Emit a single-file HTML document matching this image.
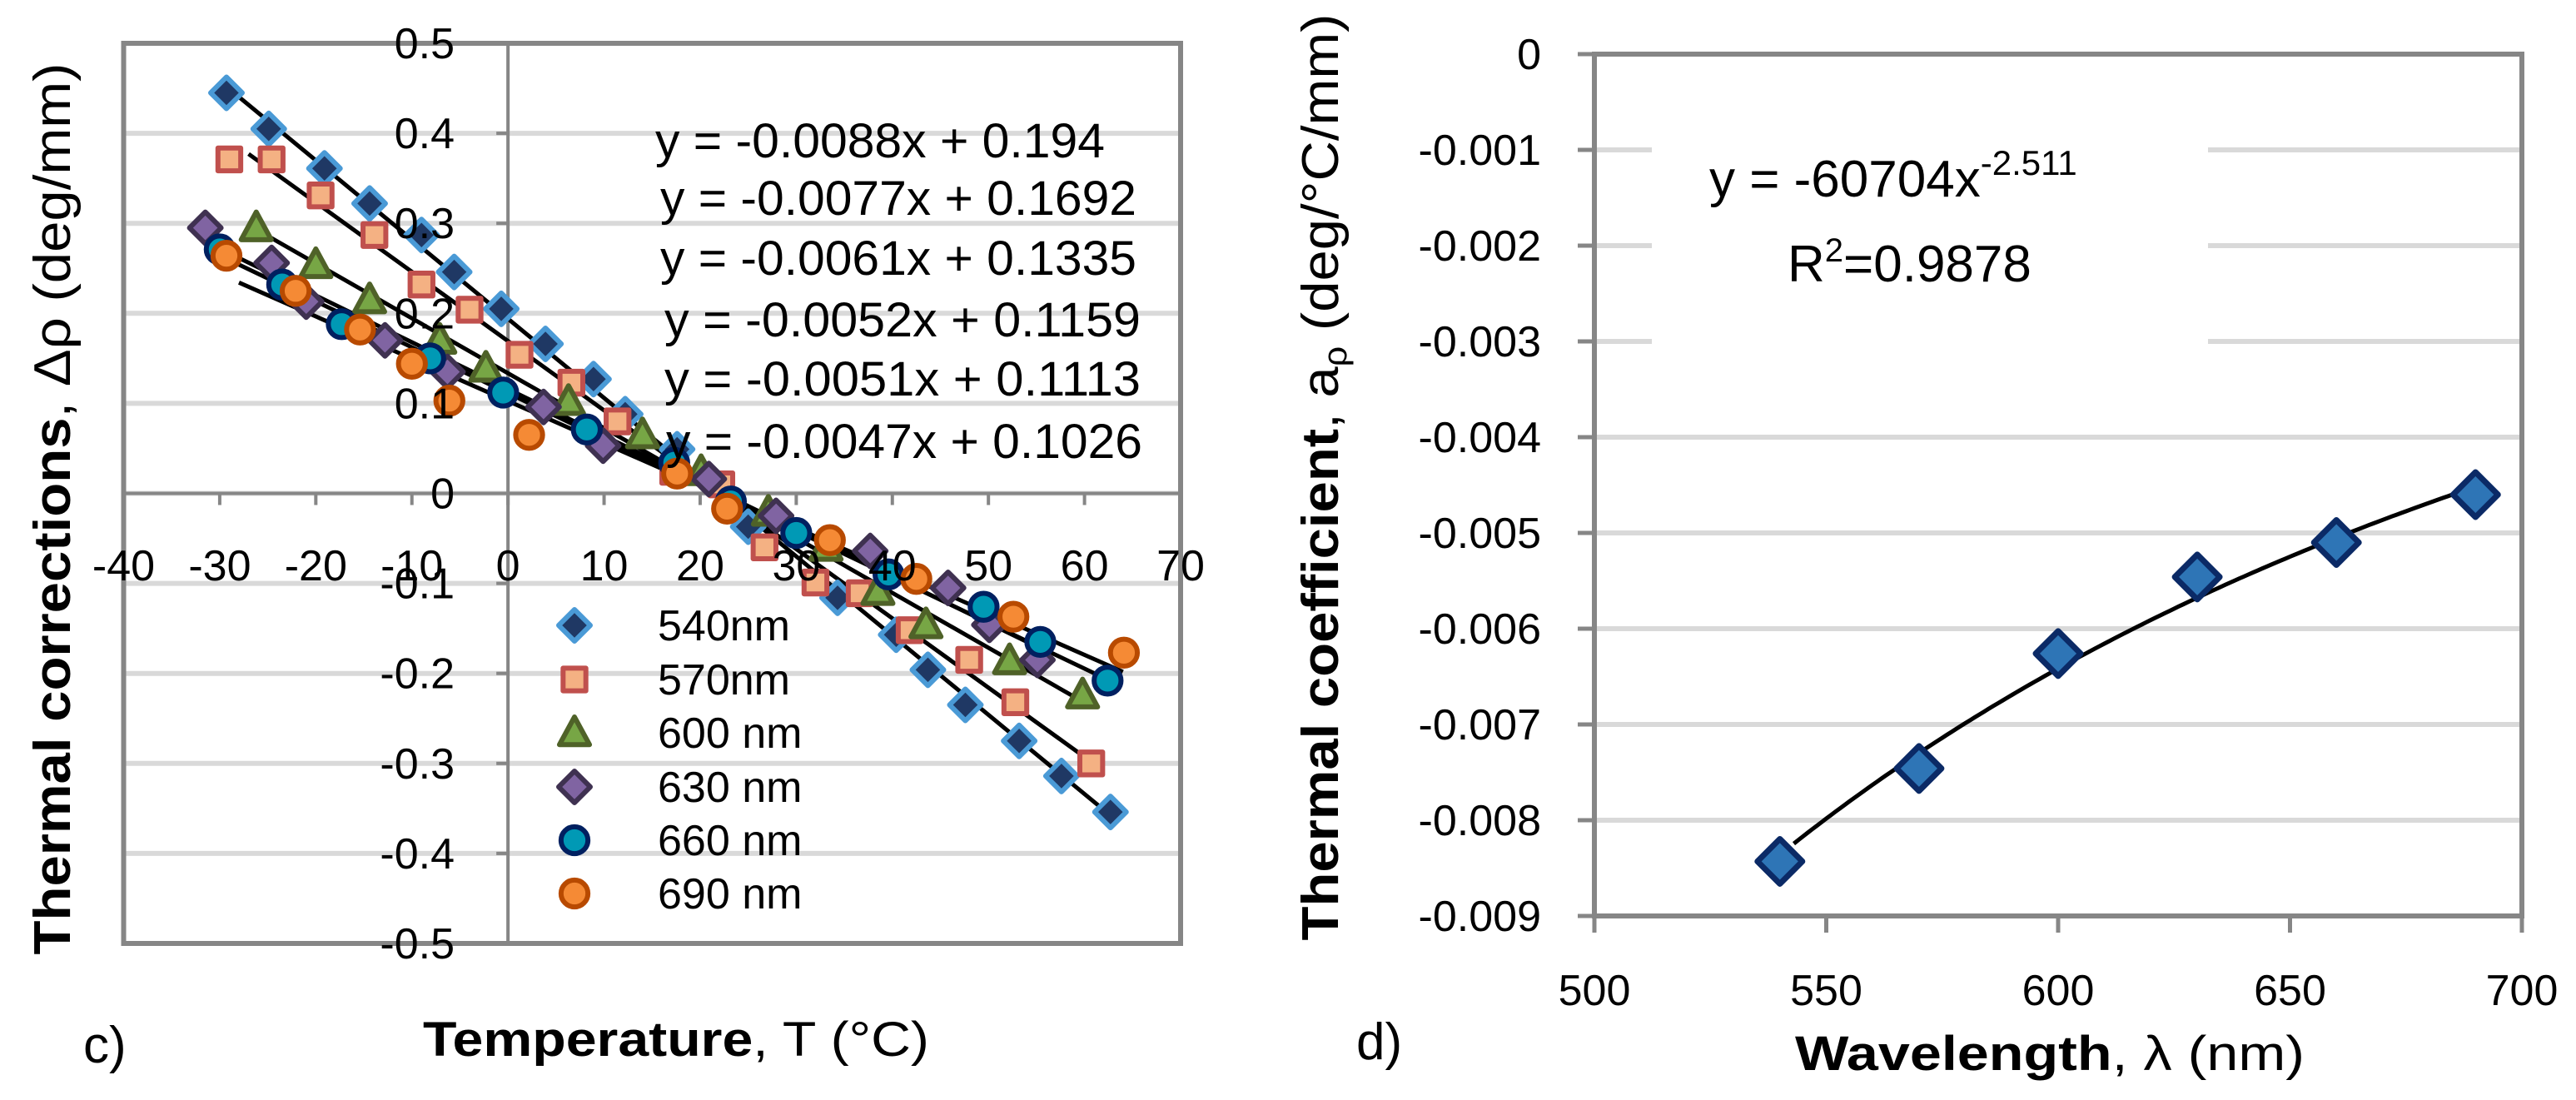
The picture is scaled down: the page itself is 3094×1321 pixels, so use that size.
<!DOCTYPE html>
<html><head><meta charset="utf-8"><style>
html,body{margin:0;padding:0;background:#fff;}
svg{display:block;font-family:"Liberation Sans",sans-serif;}
</style></head><body>
<svg id="fig" width="3094" height="1321" viewBox="0 0 3094 1321" xmlns="http://www.w3.org/2000/svg">
<g id="left"></g>
<g id="right"></g>
</svg>
<script>
const NS="http://www.w3.org/2000/svg";
// ---------- chart c data ----------
const xTicksC=[-40,-30,-20,-10,0,10,20,30,40,50,60,70];
const yTicksC=[0.5,0.4,0.3,0.2,0.1,0,-0.1,-0.2,-0.3,-0.4,-0.5];
const yTickLabelsC=["0.5","0.4","0.3","0.2","0.1","0","-0.1","-0.2","-0.3","-0.4","-0.5"];
const seriesNames=["540nm","570nm","600 nm","630 nm","660 nm","690 nm"];
const x540=[-29.3,-24.9,-19.1,-14.4,-9.0,-5.6,-0.7,3.9,8.9,12.2,17.6,25.0,34.3,40.4,43.7,47.6,53.2,57.6,62.7];
const y540=[0.445,0.405,0.361,0.322,0.287,0.246,0.205,0.166,0.127,0.088,0.049,-0.037,-0.116,-0.157,-0.196,-0.235,-0.275,-0.314,-0.354];
const x570=[-29.0,-24.6,-19.5,-13.9,-9.0,-4.0,1.2,6.6,11.4,17.2,22.2,26.7,32.0,36.6,41.8,48.0,52.8,60.7];
const y570=[0.371,0.371,0.331,0.287,0.232,0.204,0.154,0.123,0.080,0.024,0.010,-0.060,-0.099,-0.111,-0.152,-0.185,-0.232,-0.300];
const x600=[-26.2,-20.0,-14.4,-7.1,-2.3,6.3,14.0,20.1,27.1,33.1,38.5,43.5,52.2,59.8];
const y600=[0.295,0.254,0.215,0.170,0.139,0.102,0.065,0.024,-0.021,-0.060,-0.109,-0.146,-0.186,-0.224];
const x630=[-31.5,-24.6,-21.0,-12.8,-6.3,3.7,9.9,20.9,27.9,37.7,45.8,50.1,55.1];
const y630=[0.295,0.256,0.213,0.170,0.135,0.096,0.053,0.016,-0.025,-0.064,-0.105,-0.146,-0.185];
const x660=[-30.0,-23.5,-17.3,-8.1,-0.5,8.2,17.3,23.2,30.0,39.6,49.5,55.4,62.4];
const y660=[0.271,0.232,0.188,0.150,0.112,0.071,0.034,-0.009,-0.044,-0.090,-0.126,-0.165,-0.208];
const x690=[-29.3,-22.1,-15.4,-10.0,-6.1,2.2,17.6,22.8,33.5,42.5,52.6,64.1];
const y690=[0.264,0.225,0.182,0.144,0.103,0.065,0.022,-0.017,-0.052,-0.095,-0.137,-0.177];
const slopes=[-0.0088,-0.0077,-0.0061,-0.0052,-0.0051,-0.0047];
const intercepts=[0.194,0.1692,0.1335,0.1159,0.1113,0.1026];
const fitStart=[-29,-27,-26,-31,-30,-28];
const fitEnd=[63,61,60,56,63,64];
const eqLabels=["y = -0.0088x + 0.194","y = -0.0077x + 0.1692","y = -0.0061x + 0.1335","y = -0.0052x + 0.1159","y = -0.0051x + 0.1113","y = -0.0047x + 0.1026"];
// ---------- chart d data ----------
const wavelengths=[540,570,600,630,660,690];
const coeffs=[-0.00843,-0.00746,-0.00626,-0.00546,-0.00510,-0.00460];
const xTicksD=[500,550,600,650,700];
const yTicksD=[0,-0.001,-0.002,-0.003,-0.004,-0.005,-0.006,-0.007,-0.008,-0.009];
const yTickLabelsD=["0","-0.001","-0.002","-0.003","-0.004","-0.005","-0.006","-0.007","-0.008","-0.009"];
const powA=-60704, powB=-2.511;

function mk(parent,tag,attrs,text){const e=document.createElementNS(NS,tag);for(const k in attrs)e.setAttribute(k,attrs[k]);if(text!==undefined)e.textContent=text;parent.appendChild(e);return e;}

// ===== chart c =====
const L=document.getElementById('left');
const cx0=148.5,cx1=1418,cy0=52,cy1=1133;
const sxC=v=>cx0+(v+40)/110*(cx1-cx0);
const syC=v=>cy0+(0.5-v)/1.0*(cy1-cy0);
yTicksC.forEach((v,i)=>{
  const g=mk(L,'line',{x1:cx0,x2:cx1,y1:syC(v),y2:syC(v),stroke:'#d9d9d9','stroke-width':6});
  
  
});
let e=mk(L,'rect',{x:cx0,y:cy0,width:cx1-cx0,height:cy1-cy0,fill:'none',stroke:'#868686','stroke-width':6});


e=mk(L,'line',{x1:sxC(0),x2:sxC(0),y1:cy0,y2:cy1,stroke:'#868686','stroke-width':4});


e=mk(L,'line',{x1:cx0,x2:cx1,y1:syC(0),y2:syC(0),stroke:'#868686','stroke-width':4});


xTicksC.forEach(v=>{
  const t=mk(L,'line',{x1:sxC(v),x2:sxC(v),y1:syC(0),y2:syC(0)+14,stroke:'#868686','stroke-width':4});
  
  
});
yTicksC.forEach(v=>{
  const t=mk(L,'line',{x1:sxC(0)-14,x2:sxC(0),y1:syC(v),y2:syC(v),stroke:'#868686','stroke-width':4});
  
  
});
// fit lines
slopes.forEach((m,i)=>{
  const a=fitStart[i],b=fitEnd[i];
  const l=mk(L,'line',{x1:sxC(a),y1:syC(m*a+intercepts[i]),x2:sxC(b),y2:syC(m*b+intercepts[i]),stroke:'#000','stroke-width':5});
  
  
});
const styles=[
 {shape:'diamond',fill:'#1f3864',stroke:'#4a9ad6'},
 {shape:'square',fill:'#f4b183',stroke:'#c0504d'},
 {shape:'triangle',fill:'#77a645',stroke:'#4f6228'},
 {shape:'diamond',fill:'#8064a2',stroke:'#3f3151'},
 {shape:'circle',fill:'#0099b5',stroke:'#002060'},
 {shape:'circle',fill:'#f58a35',stroke:'#b84a00'}];
function marker(parent,st,x,y,r){
  let el;
  if(st.shape==='diamond')el=mk(parent,'polygon',{points:`${x},${y-r} ${x+r},${y} ${x},${y+r} ${x-r},${y}`});
  else if(st.shape==='square')el=mk(parent,'rect',{x:x-r*0.72,y:y-r*0.72,width:r*1.44,height:r*1.44});
  else if(st.shape==='triangle')el=mk(parent,'polygon',{points:`${x},${y-r} ${x+r*0.95},${y+r*0.75} ${x-r*0.95},${y+r*0.75}`});
  else el=mk(parent,'circle',{cx:x,cy:y,r:r*0.85});
  el.setAttribute('fill',st.fill);el.setAttribute('stroke',st.stroke);el.setAttribute('stroke-width',6);el.setAttribute('stroke-linejoin','round');
  return el;
}
const xs=[x540,x570,x600,x630,x660,x690], ys=[y540,y570,y600,y630,y660,y690];
xs.forEach((arr,i)=>{
  arr.forEach((v,j)=>{
    const m=marker(L,styles[i],sxC(v),syC(ys[i][j]),19);
    
    
  });
});
// tick labels
yTicksC.forEach((v,i)=>{
  const t=mk(L,'text',{x:546,y:syC(v)+18,'font-size':52,'text-anchor':'end'},yTickLabelsC[i]);
  
  
});
xTicksC.forEach(v=>{
  const t=mk(L,'text',{x:sxC(v),y:697,'font-size':52,'text-anchor':'middle'},String(v));
  
  
});
// equations
const eqX=[787,793,793,798,798,800], eqRight=[1327,1365,1365,1370,1370,1372], eqY=[169,238,310,384,455,530];
eqLabels.forEach((s,i)=>{
  const t=mk(L,'text',{x:eqX[i],y:eqY[i]+20,'font-size':58,textLength:eqRight[i]-eqX[i],lengthAdjust:'spacingAndGlyphs'},s);
  
  
});
// legend
const legY=[751,816,880,945,1009,1073];
seriesNames.forEach((n,i)=>{
  const g=mk(L,'g',{});
  
  
  marker(g,styles[i],690,legY[i],19);
  mk(g,'text',{x:790,y:legY[i]+18,'font-size':52},n);
});
// titles
e=mk(L,'text',{x:812,y:1268,'font-size':58,'text-anchor':'middle',textLength:608,lengthAdjust:'spacingAndGlyphs'});
e.innerHTML='<tspan font-weight="bold">Temperature</tspan>, T (°C)';


e=mk(L,'text',{x:0,y:0,'font-size':62,'text-anchor':'middle',transform:'translate(84,611) rotate(-90)',textLength:1071,lengthAdjust:'spacingAndGlyphs'});
e.innerHTML='<tspan font-weight="bold">Thermal corrections</tspan>, Δρ (deg/mm)';


e=mk(L,'text',{x:100,y:1276,'font-size':62},'c)');



// ===== chart d =====
const R=document.getElementById('right');
const dx0=1915,dx1=3029,dy0=65,dy1=1100;
const sxD=v=>dx0+(v-500)/200*(dx1-dx0);
const syD=v=>dy0+(0-v)/0.009*(dy1-dy0);
yTicksD.forEach((v,i)=>{
  if(i===0)return;
  if(i<=3){
    let a=mk(R,'line',{x1:dx0,x2:1984,y1:syD(v),y2:syD(v),stroke:'#d9d9d9','stroke-width':6});
    
    
    a=mk(R,'line',{x1:2652,x2:dx1,y1:syD(v),y2:syD(v),stroke:'#d9d9d9','stroke-width':6});
    
    
  } else {
    const a=mk(R,'line',{x1:dx0,x2:dx1,y1:syD(v),y2:syD(v),stroke:'#d9d9d9','stroke-width':6});
    
    
  }
});
e=mk(R,'rect',{x:dx0,y:dy0,width:dx1-dx0,height:dy1-dy0,fill:'none',stroke:'#868686','stroke-width':6});


yTicksD.forEach((v,i)=>{
  const t=mk(R,'line',{x1:dx0-20,x2:dx0,y1:syD(v),y2:syD(v),stroke:'#868686','stroke-width':5});
  
  
  const l=mk(R,'text',{x:1851,y:syD(v)+18,'font-size':52,'text-anchor':'end'},yTickLabelsD[i]);
  
  
});
xTicksD.forEach(v=>{
  const t=mk(R,'line',{x1:sxD(v),x2:sxD(v),y1:dy1,y2:dy1+20,stroke:'#868686','stroke-width':5});
  
  
  const l=mk(R,'text',{x:sxD(v),y:1207,'font-size':52,'text-anchor':'middle'},String(v));
  
  
});
// power fit
let pd='';
for(let w=543;w<=690;w+=1){const yv=powA*Math.pow(w,powB);pd+=(pd?'L':'M')+sxD(w).toFixed(1)+','+syD(yv).toFixed(1);}
e=mk(R,'path',{d:pd,fill:'none',stroke:'#000','stroke-width':5});


wavelengths.forEach((w,i)=>{
  const x=sxD(w),y=syD(coeffs[i]),r=27;
  const p=mk(R,'polygon',{points:`${x},${y-r} ${x+r},${y} ${x},${y+r} ${x-r},${y}`,fill:'#2e75b6',stroke:'#0b2a66','stroke-width':7,'stroke-linejoin':'round'});
  
  
});
e=mk(R,'text',{x:2053,y:236,'font-size':62});
e.innerHTML='y = -60704x<tspan font-size="42" dy="-26">-2.511</tspan>';


e=mk(R,'text',{x:2147,y:338,'font-size':62});
e.innerHTML='R<tspan font-size="40" dy="-24">2</tspan><tspan dy="24">=0.9878</tspan>';


e=mk(R,'text',{x:2462,y:1285,'font-size':58,'text-anchor':'middle',textLength:612,lengthAdjust:'spacingAndGlyphs'});
e.innerHTML='<tspan font-weight="bold">Wavelength</tspan>, λ (nm)';


e=mk(R,'text',{x:0,y:0,'font-size':62,'text-anchor':'middle',transform:'translate(1607,573) rotate(-90)',textLength:1113,lengthAdjust:'spacingAndGlyphs'});
e.innerHTML='<tspan font-weight="bold">Thermal coefficient</tspan>, a<tspan font-size="40" dy="10">ρ</tspan><tspan dy="-10"> (deg/°C/mm)</tspan>';


e=mk(R,'text',{x:1629,y:1272,'font-size':62},'d)');


</script>
</body></html>
